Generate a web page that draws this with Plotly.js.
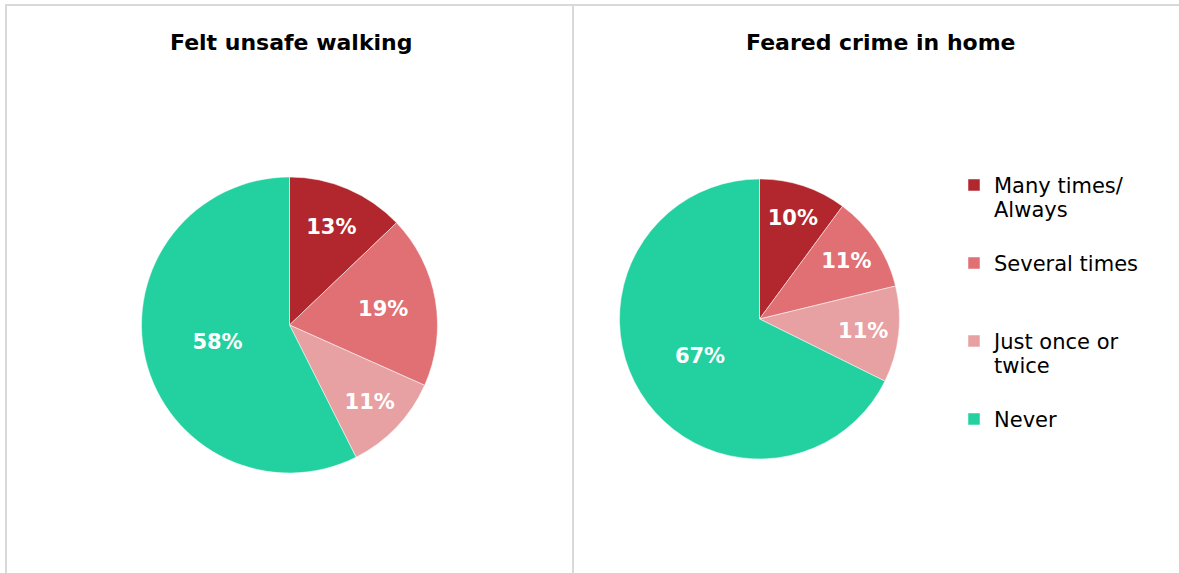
<!DOCTYPE html>
<html>
<head>
<meta charset="utf-8">
<script src="https://cdn.plot.ly/plotly-3.0.1.min.js"></script>
<style>html,body{margin:0;padding:0;background:#fff;}#chart{width:1179px;height:573px;}</style>
</head>
<body>
<div id="chart"></div>
<script>
const categories = ["Many times/<br>Always", "Several times", "Just once or<br>twice", "Never"];
const walkingValues = [13, 19, 11, 58];
const homeValues = [10, 11, 11, 67];
const chartTitles = ["Felt unsafe walking", "Feared crime in home"];
const colors = ["#B1272D", "#E07073", "#E8A1A3", "#23D0A0"];

const W = 1179, H = 573;
const fx = p => p / W;
const fy = p => (H - p) / H;
const FONT = "'DejaVu Sans', sans-serif";

// legend entries padded to three lines each so items are evenly spaced like the reference
const legendLabels = categories.map(c => {
  const n = c.split("<br>").length;
  let s = c;
  for (let i = n; i < 3; i++) s += "<br>&nbsp;";
  return "<span style='font-size:21px'>" + s + "</span>";
});

function pie(values, domX, domY, showLegend) {
  return {
    type: "pie",
    labels: legendLabels,
    values: values,
    sort: false,
    direction: "clockwise",
    rotation: 0,
    marker: {colors: colors, line: {color: "#ffffff", width: 0.5}},
    texttemplate: "%{value}%",
    textposition: "inside",
    insidetextorientation: "horizontal",
    insidetextfont: {family: FONT, size: 21, color: "#ffffff", weight: "bold"},
    hoverinfo: "value",
    showlegend: showLegend,
    domain: {x: domX, y: domY}
  };
}

const data = [
  pie(walkingValues, [fx(141), fx(438)], [fy(473), fy(177)], true),
  pie(homeValues, [fx(619), fx(900)], [fy(459), fy(179)], false)
];

const lineStyle = {color: "#d9d9d9", width: 2};
const layout = {
  width: W, height: H,
  margin: {l: 0, r: 0, t: 0, b: 0},
  paper_bgcolor: "#ffffff",
  font: {family: FONT, color: "#000000"},
  showlegend: true,
  legend: {
    x: fx(954), xanchor: "left",
    y: fy(166), yanchor: "top",
    valign: "top",
    font: {family: FONT, size: 19.23, color: "#000000"},
    itemwidth: 30,
    traceorder: "normal",
    bgcolor: "rgba(0,0,0,0)"
  },
  annotations: [
    {text: "<b>" + chartTitles[0] + "</b>", x: fx(291), y: fy(43), xref: "paper", yref: "paper",
     showarrow: false, xanchor: "center", yanchor: "middle", font: {family: FONT, size: 22, color: "#000"}},
    {text: "<b>" + chartTitles[1] + "</b>", x: fx(881), y: fy(43), xref: "paper", yref: "paper",
     showarrow: false, xanchor: "center", yanchor: "middle", font: {family: FONT, size: 22, color: "#000"}}
  ],
  shapes: [
    {type: "line", xref: "paper", yref: "paper", x0: fx(5), x1: 1, y0: fy(5), y1: fy(5), line: lineStyle},
    {type: "line", xref: "paper", yref: "paper", x0: fx(6), x1: fx(6), y0: fy(5), y1: 0, line: lineStyle},
    {type: "line", xref: "paper", yref: "paper", x0: fx(573), x1: fx(573), y0: fy(5), y1: 0, line: lineStyle}
  ]
};

Plotly.newPlot("chart", data, layout, {displayModeBar: false, staticPlot: true});
</script>
</body>
</html>
